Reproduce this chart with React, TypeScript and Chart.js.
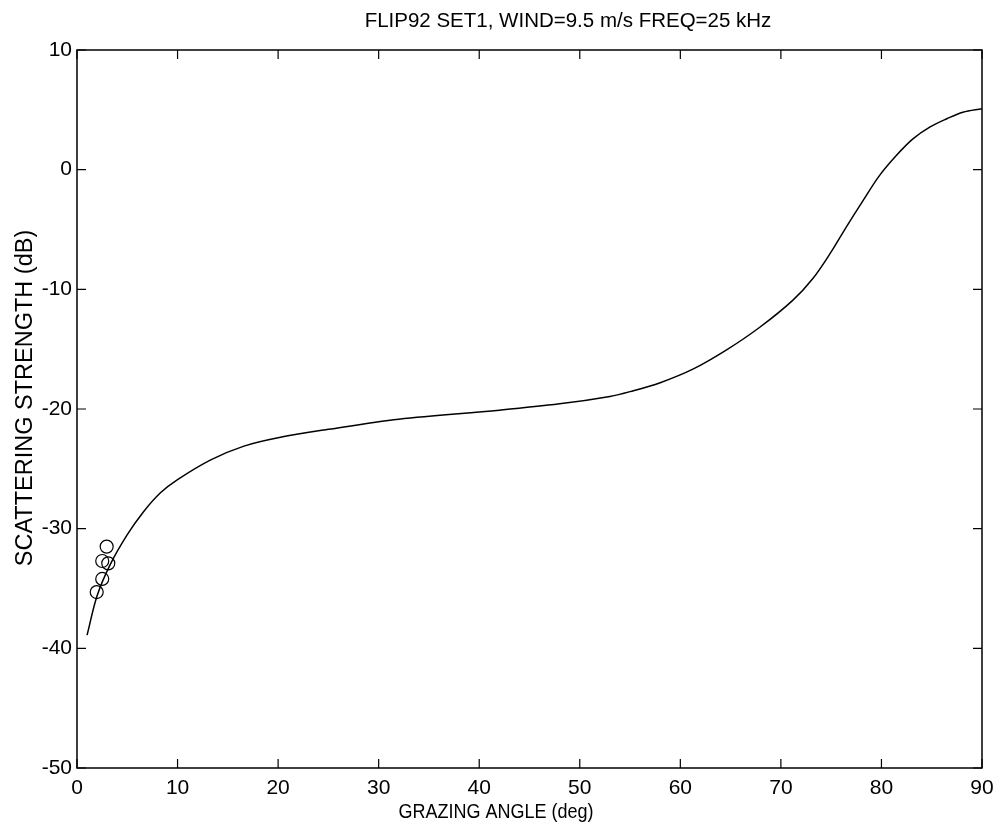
import React, { useEffect, useRef } from "react";
import { Chart, registerables } from "chart.js";

Chart.register(...registerables);

const chartTitle = "FLIP92 SET1, WIND=9.5 m/s FREQ=25 kHz";
const xTitle = "GRAZING ANGLE (deg)";
const yTitle = "SCATTERING STRENGTH (dB)";

const modelAngle = [1, 2, 3.3, 5, 6.6, 8.3, 10, 13.3, 16.6, 20, 25, 32, 42, 48, 53, 55, 58, 61.3, 64.6, 67.9, 71.2, 73.2, 74.9, 76.5, 78.2, 79.8, 81.5, 83.1, 84.8, 86.5, 88.1, 90];
const modelStrength = [-38.9, -35.6, -33.0, -30.5, -28.6, -27.0, -25.9, -24.25, -23.1, -22.4, -21.7, -20.85, -20.1, -19.57, -18.95, -18.55, -17.8, -16.65, -15.06, -13.17, -10.9, -9.07, -7.0, -4.8, -2.55, -0.5, 1.2, 2.55, 3.55, 4.25, 4.8, 5.1];

const measuredAngle = [1.96, 2.51, 2.51, 2.95, 3.11];
const measuredStrength = [-35.3, -34.2, -32.7, -31.5, -32.9];

const xTicks = [0, 10, 20, 30, 40, 50, 60, 70, 80, 90];
const yTicks = [-50, -40, -30, -20, -10, 0, 10];

const FONT = "'Liberation Sans', Arial, Helvetica, sans-serif";

const framePlugin = {
  id: "matlabFrame",
  afterDraw(chart: any) {
    const { ctx, chartArea: a, scales } = chart;
    const xs = scales.x;
    const ys = scales.y;
    ctx.save();
    ctx.strokeStyle = "#000";
    ctx.lineWidth = 1.5;
    ctx.strokeRect(a.left, a.top, a.right - a.left, a.bottom - a.top);
    ctx.lineWidth = 1.2;
    const tl = 9;
    ctx.beginPath();
    for (const v of xTicks) {
      const px = xs.getPixelForValue(v);
      ctx.moveTo(px, a.bottom);
      ctx.lineTo(px, a.bottom - tl);
      ctx.moveTo(px, a.top);
      ctx.lineTo(px, a.top + tl);
    }
    for (const v of yTicks) {
      const py = ys.getPixelForValue(v);
      ctx.moveTo(a.left, py);
      ctx.lineTo(a.left + tl, py);
      ctx.moveTo(a.right, py);
      ctx.lineTo(a.right - tl, py);
    }
    ctx.stroke();

    ctx.fillStyle = "#000";
    ctx.textAlign = "center";
    ctx.textBaseline = "middle";
    ctx.font = `20.5px ${FONT}`;
    ctx.fillText(chartTitle, 568, 21);
    ctx.save();
    ctx.translate(496, 812);
    ctx.scale(1, 1.15);
    ctx.font = `18px ${FONT}`;
    ctx.fillText(xTitle, 0, 0);
    ctx.restore();
    ctx.save();
    ctx.translate(26, 398);
    ctx.rotate(-Math.PI / 2);
    ctx.font = `23.5px ${FONT}`;
    ctx.fillText(yTitle, 0, 0);
    ctx.restore();
    ctx.restore();
  },
};

export default function App() {
  const ref = useRef<HTMLCanvasElement | null>(null);
  useEffect(() => {
    if (!ref.current) return;
    const chart = new Chart(ref.current, {
      type: "scatter",
      data: {
        datasets: [
          {
            label: "model",
            data: modelAngle.map((x, i) => ({ x, y: modelStrength[i] })),
            showLine: true,
            borderColor: "#000",
            borderWidth: 1.5,
            pointRadius: 0,
            tension: 0.35,
          },
          {
            label: "measured",
            data: measuredAngle.map((x, i) => ({ x, y: measuredStrength[i] })),
            showLine: false,
            pointRadius: 6.5,
            pointBorderColor: "#000",
            pointBackgroundColor: "rgba(0,0,0,0)",
            pointBorderWidth: 1.2,
          },
        ],
      },
      options: {
        animation: false,
        responsive: false,
        maintainAspectRatio: false,
        layout: { padding: { left: 0, right: 20, top: 50, bottom: 0 } },
        plugins: { legend: { display: false }, title: { display: false }, tooltip: { enabled: false } },
        scales: {
          x: {
            type: "linear",
            min: 0,
            max: 90,
            border: { display: false },
            grid: { display: false, drawTicks: false },
            afterBuildTicks: (s: any) => { s.ticks = xTicks.map((v) => ({ value: v })); },
            afterFit: (s: any) => { s.height = 60; },
            ticks: { color: "#000", padding: 8, maxRotation: 0, font: { family: FONT, size: 21 } },
          },
          y: {
            type: "linear",
            min: -50,
            max: 10,
            border: { display: false },
            grid: { display: false, drawTicks: false },
            afterBuildTicks: (s: any) => { s.ticks = yTicks.map((v) => ({ value: v })); },
            afterFit: (s: any) => { s.width = 77; },
            ticks: { color: "#000", padding: 5, font: { family: FONT, size: 21 } },
          },
        },
      },
      plugins: [framePlugin],
    } as any);
    return () => chart.destroy();
  }, []);
  return (
    <div style={{ position: "absolute", left: 0, top: 0, width: 1002, height: 828, background: "#fff" }}>
      <canvas ref={ref} width={1002} height={828} style={{ width: 1002, height: 828 }} />
    </div>
  );
}
